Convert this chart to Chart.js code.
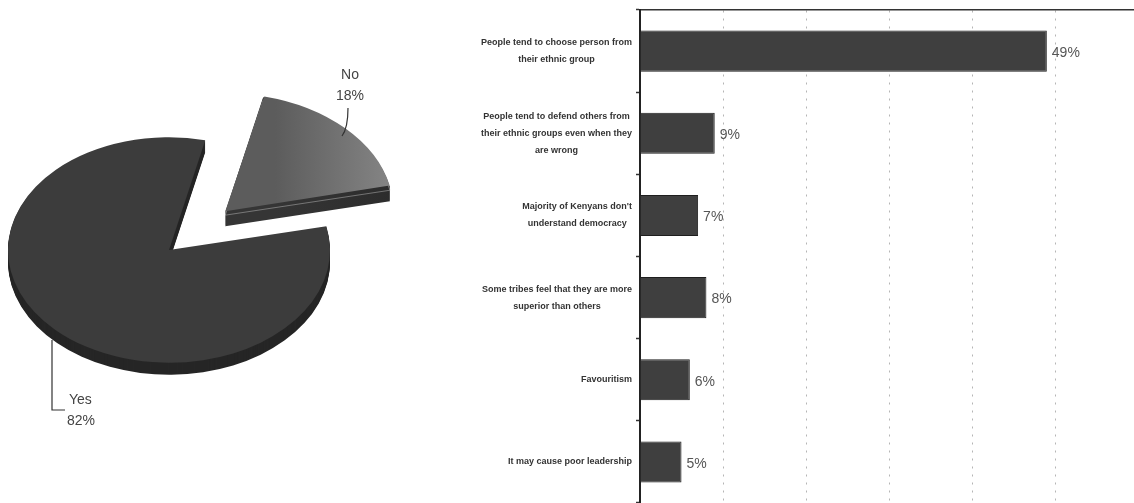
<!DOCTYPE html>
<html>
<head>
<meta charset="utf-8">
<script src="https://cdn.jsdelivr.net/npm/chart.js@4.4.1/dist/chart.umd.min.js"></script>
<style>
  html, body { margin: 0; padding: 0; background: #fff; }
  #wrap { position: relative; width: 1134px; height: 503px; overflow: hidden; }
  #pieChart { position: absolute; left: 0; top: 0; }
  #barChart { position: absolute; left: 440px; top: 0; }
</style>
</head>
<body>
<div id="wrap">
  <canvas id="pieChart" width="440" height="503"></canvas>
  <canvas id="barChart" width="694" height="503"></canvas>
</div>
<script>
const FONT = '"Liberation Sans", Arial, sans-serif';

// Yes / No split
const pieLabels = ['Yes', 'No'];
const pieValues = [82, 18];

// Reasons, one array of lines per category
const reasonLabels = [
    ['People tend to choose person from', 'their ethnic group'],
    ['People tend to defend others from', 'their ethnic groups even when they', 'are wrong'],
    ["Majority of Kenyans don't", 'understand democracy'],
    ['Some tribes feel that they are more', 'superior than others'],
    ['Favouritism'],
    ['It may cause poor leadership']
];
const reasonValues = [49, 9, 7, 8, 6, 5];

const TILT = 0.7;          // squash of the pie top face
const DEPTHS = [12, 15];   // wall height per slice
const EXPLODE = 79;        // pull-out of the small slice

// arc shift as ArcElement.draw applies it
function arcShift(el) {
    const off = (el.options.offset || 0) / 4;
    const mid = (el.startAngle + el.endAngle) / 2;
    const fix = 1 - Math.sin(Math.min(Math.PI, el.endAngle - el.startAngle));
    return { dx: Math.cos(mid) * off, dy: Math.sin(mid) * off, dr: off * fix };
}

function tilt(ctx, cx, cy, dy) {
    ctx.translate(cx, cy + dy);
    ctx.scale(1, TILT);
    ctx.translate(-cx, -cy);
}

function slicePath(ctx, el, s) {
    ctx.beginPath();
    ctx.moveTo(el.x, el.y);
    ctx.arc(el.x, el.y, el.outerRadius + s.dr, el.startAngle, el.endAngle);
    ctx.closePath();
}

/* 3D pie: side walls first, then squash the faces Chart.js draws */
const pie3d = {
    id: 'pie3d',
    beforeDatasetsDraw(chart) {
        const ctx = chart.ctx;
        const arcs = chart.getDatasetMeta(0).data;
        const cx = arcs[0].x, cy = arcs[0].y;
        arcs.forEach((el, i) => {
            const s = arcShift(el);
            let fill = '#262626';
            if (i === 1) {
                fill = ctx.createLinearGradient(cx + 50, 0, cx + 220, 0);
                fill.addColorStop(0, '#353535');
                fill.addColorStop(0.7, '#2c2c2c');
                fill.addColorStop(1, '#161616');
            }
            for (let d = DEPTHS[i]; d >= 1; d--) {
                ctx.save();
                tilt(ctx, cx, cy, d);
                ctx.translate(s.dx, s.dy);
                slicePath(ctx, el, s);
                ctx.fillStyle = fill;
                ctx.fill();
                ctx.restore();
            }
            if (i === 1) {
                // faint highlight just under the top rim
                ctx.save();
                tilt(ctx, cx, cy, 4);
                ctx.translate(s.dx, s.dy);
                slicePath(ctx, el, s);
                ctx.restore();
                ctx.strokeStyle = 'rgba(200,200,200,0.45)';
                ctx.lineWidth = 1;
                ctx.stroke();
            }
        });
        ctx.save();
        tilt(ctx, cx, cy, 0);
    },
    afterDatasetsDraw(chart) {
        chart.ctx.restore();
    },
    afterDraw(chart) {
        const ctx = chart.ctx;
        const el = chart.getDatasetMeta(0).data[0];
        const cx = el.x, cy = el.y;
        ctx.save();
        ctx.font = '14px ' + FONT;
        ctx.fillStyle = '#444';
        ctx.strokeStyle = '#333';
        ctx.lineWidth = 1.2;
        ctx.textBaseline = 'middle';

        // No
        ctx.textAlign = 'center';
        ctx.fillText(pieLabels[1], cx + 181, cy - 175);
        ctx.fillText(pieValues[1] + '%', cx + 181, cy - 154);
        ctx.beginPath();
        ctx.moveTo(cx + 179, cy - 142);
        ctx.quadraticCurveTo(cx + 179, cy - 122, cx + 173, cy - 114);
        ctx.stroke();

        // Yes
        ctx.textAlign = 'left';
        ctx.fillText(pieLabels[0], cx - 100, cy + 150);
        ctx.fillText(pieValues[0] + '%', cx - 102, cy + 171);
        ctx.beginPath();
        ctx.moveTo(cx - 117, cy + 90);
        ctx.lineTo(cx - 117, cy + 160);
        ctx.lineTo(cx - 104, cy + 160);
        ctx.stroke();
        ctx.restore();
    }
};

new Chart(document.getElementById('pieChart'), {
    type: 'pie',
    data: {
        labels: pieLabels,
        datasets: [{
            data: pieValues,
            backgroundColor: (c) => {
                if (c.dataIndex === 0) return '#3c3c3c';
                const area = c.chart.chartArea;
                if (!area) return '#777';
                const mx = (area.left + area.right) / 2;
                const g = c.chart.ctx.createLinearGradient(mx + 50, 0, mx + 215, 0);
                g.addColorStop(0, '#5c5c5c');
                g.addColorStop(1, '#969696');
                return g;
            },
            borderWidth: 0,
            offset: [0, EXPLODE * 4],
            clip: false
        }]
    },
    options: {
        responsive: false,
        animation: false,
        devicePixelRatio: 1,
        rotation: 77.8,
        radius: 161,
        layout: { padding: { left: 0, right: 102, top: 0, bottom: 3 } },
        plugins: { legend: { display: false }, tooltip: { enabled: false } }
    },
    plugins: [pie3d]
});

/* Horizontal bars with wrapped category text and value labels */
const reasonText = {
    id: 'reasonText',
    afterDraw(chart) {
        const { ctx, chartArea } = chart;
        const yAxis = chart.scales.y;
        ctx.save();
        ctx.font = 'bold 9px ' + FONT;
        ctx.fillStyle = '#333';
        ctx.textAlign = 'center';
        ctx.textBaseline = 'middle';
        reasonLabels.forEach((lines, i) => {
            const yc = yAxis.getPixelForTick(i);
            const w = Math.max(...lines.map(l => ctx.measureText(l).width));
            const xc = chartArea.left - 8 - w / 2;
            lines.forEach((l, j) => {
                ctx.fillText(l, xc, yc + (j - (lines.length - 1) / 2) * 17);
            });
        });

        ctx.font = '14px ' + FONT;
        ctx.fillStyle = '#555';
        ctx.textAlign = 'left';
        chart.getDatasetMeta(0).data.forEach((bar, i) => {
            ctx.fillText(reasonValues[i] + '%', bar.x + 5, bar.y + 2);
        });
        ctx.restore();
    }
};

new Chart(document.getElementById('barChart'), {
    type: 'bar',
    data: {
        labels: reasonLabels,
        datasets: [{
            data: reasonValues,
            backgroundColor: '#3f3f3f',
            borderColor: '#1e1e1e',
            borderWidth: 1,
            categoryPercentage: 1,
            barPercentage: 0.5
        }]
    },
    options: {
        indexAxis: 'y',
        responsive: false,
        animation: false,
        devicePixelRatio: 1,
        layout: { padding: { left: 196, right: 0, top: 10, bottom: 0 } },
        scales: {
            x: {
                position: 'top',
                min: 0,
                max: 59.5,
                ticks: { display: false, stepSize: 10 },
                afterBuildTicks: (axis) => {
                    axis.ticks = axis.ticks.filter(t => t.value % 10 === 0 && t.value <= 50);
                },
                grid: { color: '#b5b5b5', lineWidth: 1, drawTicks: false },
                border: { color: '#333', width: 1.5, dash: [2, 6] }
            },
            y: {
                ticks: { display: false },
                grid: { drawOnChartArea: false, drawTicks: true, tickLength: 4, color: '#333', tickWidth: 1.5 },
                border: { color: '#222', width: 2 }
            }
        },
        plugins: { legend: { display: false }, tooltip: { enabled: false } }
    },
    plugins: [reasonText]
});
</script>
</body>
</html>
